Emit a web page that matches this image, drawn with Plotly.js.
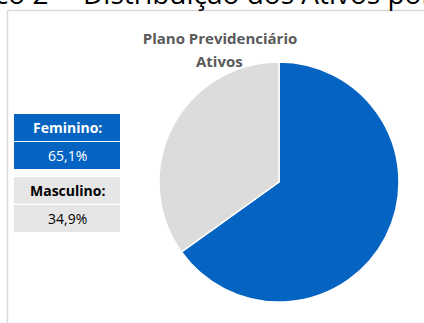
<!DOCTYPE html>
<html>
<head>
<meta charset="utf-8">
<script src="https://cdn.plot.ly/plotly-3.0.1.min.js"></script>
<style>html,body{margin:0;padding:0;background:#fff;}#chart{width:424px;height:323px;}</style>
</head>
<body>
<div id="chart"></div>
<script>
const categories = ["Feminino", "Masculino"];
const percentages = [65.1, 34.9];
const valueLabels = ["65,1%", "34,9%"];
const sliceColors = ["#0563C1", "#DCDCDC"];
const chartTitleLines = ["Plano Previdenciário", "Ativos"];
const pageHeading = ["Gráfico 2 –", "Distribuição dos Ativos por Sexo"];

const W = 424, H = 323;
const px = x => x / W;
const py = y => 1 - y / H;
const FONT = "'Open Sans', Calibri, sans-serif";

const trace = {
  type: "pie",
  labels: categories,
  values: percentages,
  sort: false,
  direction: "clockwise",
  rotation: 0,
  textinfo: "none",
  hoverinfo: "label+percent",
  marker: { colors: sliceColors, line: { color: "#ffffff", width: 1.5 } },
  domain: { x: [px(159), px(399)], y: [py(302), py(62)] },
  showlegend: false
};

const boxShapes = [];
const boxAnn = [];
function box(y0, y1, fill) {
  boxShapes.push({ type: "rect", xref: "paper", yref: "paper", x0: px(14), x1: px(120), y0: py(y1), y1: py(y0), fillcolor: fill, line: { width: 0 } });
}
function label(y, text, color, bold) {
  boxAnn.push({ xref: "paper", yref: "paper", x: px(67), y: py(y), xanchor: "center", yanchor: "middle", showarrow: false,
    text: bold ? "<b>" + text + "</b>" : text, font: { family: FONT, size: 14, color: color } });
}
// Feminino
box(114, 141, sliceColors[0]);
box(142, 169, sliceColors[0]);
label(127.5, categories[0] + ":", "#ffffff", true);
label(155.5, valueLabels[0], "#ffffff", false);
// Masculino
box(177, 203.5, "#E7E6E6");
box(205, 232, "#E7E6E6");
label(190, categories[1] + ":", "#000000", true);
label(218.5, valueLabels[1], "#000000", false);

const borderShapes = [
  { type: "line", xref: "paper", yref: "paper", x0: px(7.5), x1: px(7.5), y0: py(323), y1: py(10.5), line: { color: "#D9D9D9", width: 1.5 } },
  { type: "line", xref: "paper", yref: "paper", x0: px(7.5), x1: px(424), y0: py(10.5), y1: py(10.5), line: { color: "#D9D9D9", width: 1.5 } }
];

const layout = {
  width: W, height: H,
  margin: { l: 0, r: 0, t: 0, b: 0 },
  paper_bgcolor: "#ffffff",
  title: {
    text: "<b>" + chartTitleLines[0] + "</b>",
    x: px(220), xanchor: "center", xref: "paper",
    y: py(39), yanchor: "middle", yref: "paper",
    font: { family: FONT, size: 15, color: "#595959" }
  },
  shapes: borderShapes.concat(boxShapes),
  annotations: boxAnn.concat([
    { xref: "paper", yref: "paper", x: px(219), y: py(61), xanchor: "center", yanchor: "middle", showarrow: false,
      text: "<b>" + chartTitleLines[1] + "</b>", font: { family: FONT, size: 15, color: "#595959" } },
    { xref: "paper", yref: "paper", x: px(72), y: py(-7), xanchor: "right", yanchor: "middle", showarrow: false,
      text: pageHeading[0], font: { family: FONT, size: 28, color: "#000000" } },
    { xref: "paper", yref: "paper", x: px(81), y: py(-7), xanchor: "left", yanchor: "middle", showarrow: false,
      text: pageHeading[1], font: { family: FONT, size: 28, color: "#000000" } }
  ])
};

Plotly.newPlot("chart", [trace], layout, { displayModeBar: false, staticPlot: true });
</script>
</body>
</html>
